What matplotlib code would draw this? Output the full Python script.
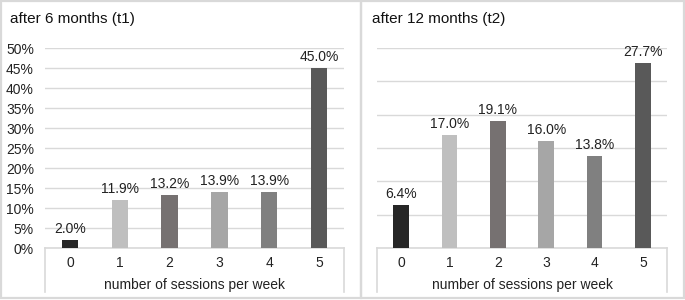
import matplotlib
matplotlib.use("Agg")
import matplotlib.pyplot as plt
from matplotlib.lines import Line2D
from matplotlib.patches import Rectangle

plt.rcParams['font.family'] = ['Liberation Sans', 'DejaVu Sans']

categories = ["0", "1", "2", "3", "4", "5"]
t1_values = [2.0, 11.9, 13.2, 13.9, 13.9, 45.0]
t2_values = [6.4, 17.0, 19.1, 16.0, 13.8, 27.7]
bar_colors = ["#262626", "#bfbfbf", "#767171", "#a6a6a6", "#808080", "#595959"]
titles = ["after 6 months (t1)", "after 12 months (t2)"]
xlabel = "number of sessions per week"

W, H = 685, 300
fig = plt.figure(figsize=(W / 100, H / 100), dpi=100)
fig.patch.set_facecolor("white")

def fx(px):
    return px / W

def fy(py):
    return 1 - py / H

border = "#d9d9d9"
# Panel frames
fig.add_artist(Rectangle((fx(1), fy(298)), fx(360), 297 / H, transform=fig.transFigure,
                         fill=False, edgecolor=border, lw=1.6))
fig.add_artist(Rectangle((fx(361), fy(298)), fx(323), 297 / H, transform=fig.transFigure,
                         fill=False, edgecolor=border, lw=1.6))

panels = [
    dict(left=45, right=344, top=48, ymax=50, values=t1_values, title=titles[0], tx=10, ylabels=True),
    dict(left=377, right=667, top=48, ymax=30, values=t2_values, title=titles[1], tx=372, ylabels=False),
]
base_y = 248
box_bottom = 292

for p in panels:
    ax = fig.add_axes([fx(p["left"]), fy(base_y), fx(p["right"] - p["left"]), (base_y - p["top"]) / H])
    x = list(range(len(categories)))
    ax.bar(x, p["values"], width=0.33, color=bar_colors, zorder=3)
    ax.set_xlim(-0.5, len(categories) - 0.5)
    ax.set_ylim(0, p["ymax"])
    ticks = list(range(0, p["ymax"] + 1, 5))
    ax.set_yticks(ticks)
    if p["ylabels"]:
        ax.set_yticklabels([f"{t}%" for t in ticks], fontsize=10, color="#222222")
    else:
        ax.set_yticklabels([])
    ax.tick_params(axis="y", length=0, pad=8)
    ax.tick_params(axis="x", length=0, pad=6)
    ax.set_xticks(x)
    ax.set_xticklabels(categories, fontsize=10, color="#222222")
    ax.grid(axis="y", color=border, lw=1, zorder=0)
    for s in ax.spines.values():
        s.set_visible(False)
    for xi, v in zip(x, p["values"]):
        ax.annotate(f"{v:.1f}%", (xi, v), xytext=(0, 3), textcoords="offset points",
                    ha="center", va="bottom", fontsize=10, color="#222222")
    # category box below axis
    depth = (box_bottom - base_y) / (base_y - p["top"])
    ax.add_line(Line2D([0, 1], [0, 0], transform=ax.transAxes, color=border, lw=1.2, clip_on=False, zorder=2))
    ax.add_line(Line2D([0, 0], [0, -depth], transform=ax.transAxes, color=border, lw=1.2, clip_on=False))
    ax.add_line(Line2D([1, 1], [0, -depth], transform=ax.transAxes, color=border, lw=1.2, clip_on=False))
    cx = (p["left"] + p["right"]) / 2
    fig.text(fx(cx), fy(285), xlabel, ha="center", va="center", fontsize=10, color="#222222")
    fig.text(fx(p["tx"]), fy(19), p["title"], ha="left", va="center", fontsize=11, color="#111111")

fig.savefig("out.png", dpi=100, facecolor="white")
